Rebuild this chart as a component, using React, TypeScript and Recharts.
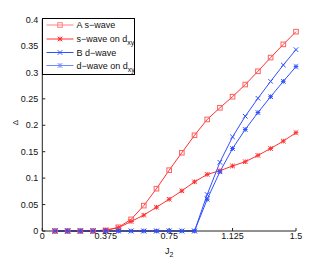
import { LineChart, Line, XAxis, YAxis, Legend, Label } from "recharts";

const jValues = [
  0.075, 0.15, 0.225, 0.3, 0.375, 0.45, 0.525, 0.6, 0.675, 0.75,
  0.825, 0.9, 0.975, 1.05, 1.125, 1.2, 1.275, 1.35, 1.425, 1.5,
];
const sWaveA = [
  0, 0, 0, 0, 0.001, 0.007, 0.022, 0.048, 0.08, 0.115,
  0.148, 0.181, 0.211, 0.233, 0.254, 0.277, 0.302, 0.328, 0.353, 0.377,
];
const sWaveDxy = [
  0, 0, 0, 0, 0.002, 0.006, 0.018, 0.03, 0.045, 0.06,
  0.076, 0.093, 0.107, 0.114, 0.123, 0.131, 0.143, 0.156, 0.17, 0.186,
];
const dWaveB = [
  0, 0, 0, 0, 0, 0, 0, 0, 0, 0,
  0, 0, 0.069, 0.13, 0.178, 0.217, 0.251, 0.283, 0.314, 0.343,
];
const dWaveDxy = [
  0, 0, 0, 0, 0, 0, 0, 0, 0, 0,
  0, 0, 0.06, 0.112, 0.156, 0.192, 0.224, 0.254, 0.283, 0.311,
];
const xTicks = [0, 0.375, 0.75, 1.125, 1.5];
const yTicks = [0, 0.05, 0.1, 0.15, 0.2, 0.25, 0.3, 0.35, 0.4];

const data = jValues.map((j, i) => ({
  j,
  sA: sWaveA[i],
  sD: sWaveDxy[i],
  dB: dWaveB[i],
  dD: dWaveDxy[i],
}));

const RED = "#ff3030";
const BLUE = "#3050ff";
const FONT = "'Liberation Sans', Arial, sans-serif";

type MarkerKind = "square" | "star" | "cross";

function Marker({ kind, cx, cy, color }: { kind: MarkerKind; cx: number; cy: number; color: string }) {
  const r = 2.3;
  if (kind === "square") {
    return <rect x={cx - r} y={cy - r} width={2 * r} height={2 * r} fill="none" stroke={color} strokeWidth={1} />;
  }
  const cross = (
    <>
      <line x1={cx - r} y1={cy - r} x2={cx + r} y2={cy + r} stroke={color} strokeWidth={1} />
      <line x1={cx - r} y1={cy + r} x2={cx + r} y2={cy - r} stroke={color} strokeWidth={1} />
    </>
  );
  if (kind === "cross") return <g>{cross}</g>;
  return (
    <g>
      {cross}
      <line x1={cx - r} y1={cy} x2={cx + r} y2={cy} stroke={color} strokeWidth={1} />
      <line x1={cx} y1={cy - r} x2={cx} y2={cy + r} stroke={color} strokeWidth={1} />
    </g>
  );
}

const dotOf = (kind: MarkerKind, color: string) => (p: any) =>
  <Marker key={`${kind}-${color}-${p.index}`} kind={kind} cx={p.cx} cy={p.cy} color={color} />;

const legendRows: { label: string; sub?: string; kind: MarkerKind; color: string }[] = [
  { label: "A s\u2212wave", kind: "square", color: "#ff8080" },
  { label: "s\u2212wave on d", sub: "xy", kind: "star", color: RED },
  { label: "B d\u2212wave", kind: "cross", color: BLUE },
  { label: "d\u2212wave on d", sub: "xy", kind: "star", color: "#7088ff" },
];

function LegendBox() {
  const rowY = [7, 21, 34.5, 47.5];
  return (
    <svg width={93} height={57} style={{ display: "block" }}>
      <rect x={0.5} y={0.5} width={92} height={56} fill="#fff" stroke="#000" strokeWidth={1} />
      {legendRows.map((r, i) => (
        <g key={r.label}>
          <line x1={4.5} y1={rowY[i]} x2={31.5} y2={rowY[i]} stroke={r.color} strokeWidth={1} />
          <Marker kind={r.kind} cx={18} cy={rowY[i]} color={r.color} />
          <text x={34.5} y={rowY[i] + 3.2} fontSize={9} fontFamily={FONT} fill="#111">
            {r.label}
            {r.sub && (
              <tspan fontSize={7} dy={3}>
                {r.sub}
              </tspan>
            )}
          </text>
        </g>
      ))}
    </svg>
  );
}

export default function App() {
  return (
    <div style={{ position: "absolute", left: 0, top: 0, background: "#fff" }}>
      <LineChart
        width={327}
        height={261}
        data={data}
        margin={{ top: 19.5, right: 31, bottom: 0, left: 0 }}
      >
        <XAxis
          dataKey="j"
          type="number"
          domain={[0, 1.5]}
          ticks={xTicks}
          tickFormatter={(v: number) => String(v)}
          height={30}
          stroke="#222"
          tickSize={-3}
          tickMargin={5}
          tick={{ fontSize: 9, fontFamily: FONT, fill: "#111" }}
          interval={0}
        >
          <Label
            content={({ viewBox }: any) => (
              <text
                x={viewBox.x + viewBox.width / 2}
                y={viewBox.y + 23}
                fontSize={9}
                fontFamily={FONT}
                fill="#111"
                textAnchor="middle"
              >
                J
                <tspan fontSize={7} dy={2.5}>
                  2
                </tspan>
              </text>
            )}
          />
        </XAxis>
        <YAxis
          type="number"
          domain={[0, 0.4]}
          ticks={yTicks}
          width={42.3}
          stroke="#222"
          tickSize={-3}
          tickMargin={7}
          tick={{ fontSize: 9, fontFamily: FONT, fill: "#111" }}
          interval={0}
        >
          <Label
            value={"\u0394"}
            angle={-90}
            position="insideLeft"
            offset={15}
            style={{ fontSize: 8, fontFamily: FONT, fill: "#111" }}
          />
        </YAxis>
        <Line
          dataKey="sA"
          stroke={RED}
          strokeWidth={1}
          dot={dotOf("square", "#ff6060")}
          isAnimationActive={false}
        />
        <Line
          dataKey="sD"
          stroke={RED}
          strokeWidth={1}
          dot={dotOf("star", RED)}
          isAnimationActive={false}
        />
        <Line
          dataKey="dB"
          stroke={BLUE}
          strokeWidth={1}
          dot={dotOf("cross", BLUE)}
          isAnimationActive={false}
        />
        <Line
          dataKey="dD"
          stroke={BLUE}
          strokeWidth={1}
          dot={dotOf("star", BLUE)}
          isAnimationActive={false}
        />
        <Legend
          layout="vertical"
          align="center"
          verticalAlign="middle"
          wrapperStyle={{ left: 41.5, top: 18, width: 93, height: 57 }}
          content={() => <LegendBox />}
        />
      </LineChart>
    </div>
  );
}
